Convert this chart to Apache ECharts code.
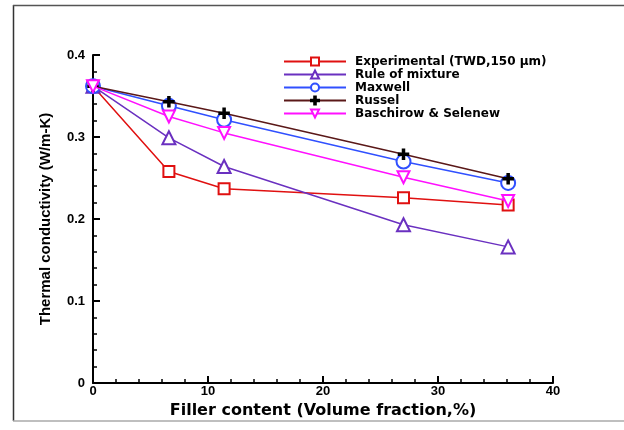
<!DOCTYPE html>
<html>
<head>
<meta charset="utf-8">
<script src="https://cdn.jsdelivr.net/npm/echarts@6/dist/echarts.min.js"></script>
<style>html,body{margin:0;padding:0;background:#fff}#c{width:624px;height:430px}</style>
</head>
<body>
<div id="c"></div>
<script>
const xValues = [0, 6.6, 11.4, 27, 36.1];
const seriesNames = ['Experimental (TWD,150 \u03bcm)', 'Rule of mixture', 'Maxwell', 'Russel', 'Baschirow & Selenew'];
const experimental = [0.362, 0.258, 0.237, 0.226, 0.217];
const ruleOfMixture = [0.362, 0.299, 0.264, 0.193, 0.166];
const maxwell = [0.362, 0.338, 0.321, 0.270, 0.244];
const russel = [0.362, 0.343, 0.329, 0.279, 0.249];
const baschirow = [0.362, 0.325, 0.305, 0.251, 0.222];
const xTitle = 'Filler content (Volume fraction,%)';
const yTitle = 'Thermal conductivity (W/m-K)';

const pairs = ys => xValues.map((x, i) => [x, ys[i]]);
const plusPath = 'path://M4,0 H6 V4 H10 V6 H6 V10 H4 V6 H0 V4 H4 Z';
const styles = [
  {color: '#e01010', symbol: 'emptyRect', size: 11, rotate: 0, sc: '#e01010'},
  {color: '#6a30c0', symbol: 'emptyTriangle', size: 13, rotate: 0, sc: '#6a30c0'},
  {color: '#3050ff', symbol: 'emptyCircle', size: 14, rotate: 0, sc: '#3050ff'},
  {color: '#5a1818', symbol: plusPath, size: 10, rotate: 0, sc: '#000'},
  {color: '#ff10ff', symbol: 'emptyTriangle', size: 12, rotate: 180, sc: '#ff10ff'}
];
const datasets = [experimental, ruleOfMixture, maxwell, russel, baschirow];

const font = '"DejaVu Sans", sans-serif';
const labFont = '"Liberation Sans", Arial, sans-serif';
const chart = echarts.init(document.getElementById('c'), null, {renderer: 'canvas'});
chart.setOption({
  animation: false,
  backgroundColor: '#fff',
  grid: {left: 93, top: 55, width: 460, height: 328, containLabel: false},
  legend: {
    orient: 'vertical', left: 283, top: 55, padding: 0,
    itemWidth: 62, itemHeight: 10, itemGap: 0,
    textStyle: {fontFamily: font, fontWeight: 'bold', fontSize: 12, lineHeight: 13, color: '#000', padding: [0, 0, 0, 4]},
    data: seriesNames
  },
  xAxis: {
    type: 'value', min: 0, max: 40, interval: 10,
    name: xTitle, nameLocation: 'middle', nameGap: 18,
    nameTextStyle: {fontFamily: font, fontWeight: 'bold', fontSize: 16, color: '#000'},
    axisLine: {lineStyle: {color: '#000', width: 2}},
    axisTick: {inside: true, length: 7, lineStyle: {color: '#000', width: 2}},
    minorTick: {show: true, splitNumber: 5, length: 4, lineStyle: {color: '#000', width: 1.5}},
    axisLabel: {fontFamily: labFont, fontWeight: 'bold', fontSize: 13, color: '#000', margin: 2},
    splitLine: {show: false}
  },
  yAxis: {
    type: 'value', min: 0, max: 0.4, interval: 0.1,
    name: yTitle, nameLocation: 'middle', nameGap: 40, nameRotate: 90,
    nameTextStyle: {fontFamily: labFont, fontWeight: 'bold', fontSize: 15, color: '#000'},
    axisLine: {show: true, lineStyle: {color: '#000', width: 2}},
    axisTick: {show: true, inside: true, length: 7, lineStyle: {color: '#000', width: 2}},
    minorTick: {show: true, splitNumber: 5, length: 4, lineStyle: {color: '#000', width: 1.5}},
    axisLabel: {fontFamily: labFont, fontWeight: 'bold', fontSize: 13, color: '#000', margin: 8},
    splitLine: {show: false}
  },
  graphic: [
    {type: 'line', shape: {x1: 13.5, y1: 5, x2: 13.5, y2: 421}, style: {stroke: '#333', lineWidth: 1.5}},
    {type: 'line', shape: {x1: 13, y1: 5.5, x2: 624, y2: 5.5}, style: {stroke: '#555', lineWidth: 1.5}},
    {type: 'line', shape: {x1: 13, y1: 421, x2: 624, y2: 421}, style: {stroke: '#aaa', lineWidth: 1.5}}
  ],
  series: datasets.map((d, i) => ({
    name: seriesNames[i], type: 'line', data: pairs(d),
    symbol: styles[i].symbol, symbolSize: styles[i].size, symbolRotate: styles[i].rotate,
    lineStyle: {color: styles[i].color, width: 1.5},
    itemStyle: {color: styles[i].sc, borderColor: styles[i].sc, borderWidth: 1.5},
    z: 2 + i
  }))
});
</script>
</body>
</html>
